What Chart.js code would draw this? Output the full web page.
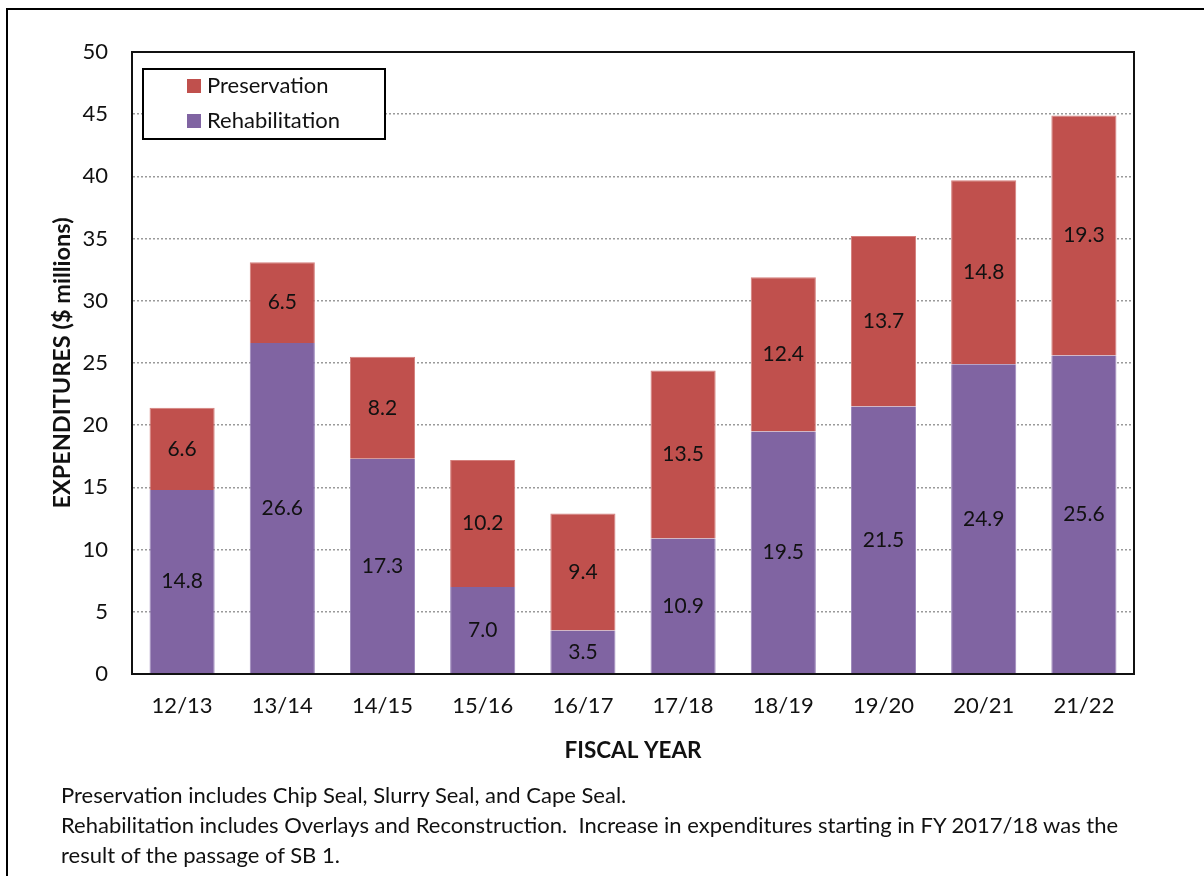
<!DOCTYPE html>
<html>
<head>
<meta charset="utf-8">
<script src="https://cdn.jsdelivr.net/npm/chart.js@4.4.1/dist/chart.umd.min.js"></script>
<style>
  html, body { margin: 0; padding: 0; background: #fff; }
  body { width: 1204px; height: 876px; position: relative; overflow: hidden; font-family: Lato, "Open Sans", sans-serif; }
  .frame { position: absolute; left: 6px; top: 8px; width: 1300px; height: 1000px; border-left: 2px solid #000; border-top: 2px solid #000; }
  .chart-wrap { position: absolute; left: 0; top: 0; width: 1204px; height: 876px; }
  .notes { position: absolute; left: 61px; top: 780px; font-size: 22px; line-height: 30px; color: #111; white-space: nowrap; }
</style>
</head>
<body>
<div class="frame"></div>
<div class="chart-wrap"><canvas id="Bar-Chart" width="1204" height="876"></canvas></div>
<div class="notes">
  Preservation includes Chip Seal, Slurry Seal, and Cape Seal.<br>
  Rehabilitation includes Overlays and Reconstruction.&nbsp; Increase in expenditures starting in FY 2017/18 was the<br>
  result of the passage of SB 1.
</div>
<script>
// Data
const years = ["12/13", "13/14", "14/15", "15/16", "16/17", "17/18", "18/19", "19/20", "20/21", "21/22"];
const rehabilitation = [14.8, 26.6, 17.3, 7.0, 3.5, 10.9, 19.5, 21.5, 24.9, 25.6];
const preservation = [6.6, 6.5, 8.2, 10.2, 9.4, 13.5, 12.4, 13.7, 14.8, 19.3];
const yTicks = [0, 5, 10, 15, 20, 25, 30, 35, 40, 45, 50];

const purple = "#8064A2";
const red = "#C0504D";
const font = "Lato, 'Open Sans', sans-serif";

// value labels in the middle of each segment
const segmentLabels = {
  id: "segmentLabels",
  afterDatasetsDraw(chart) {
    const ctx = chart.ctx;
    ctx.save();
    ctx.font = "21px " + font;
    ctx.fillStyle = "#111";
    ctx.textAlign = "center";
    ctx.textBaseline = "middle";
    chart.data.datasets.forEach((ds, i) => {
      chart.getDatasetMeta(i).data.forEach((bar, j) => {
        const p = bar.getProps(["x", "y", "base"], true);
        ctx.fillText(ds.data[j].toFixed(1), p.x, (p.y + p.base) / 2);
      });
    });
    ctx.restore();
  },
};

// plot frame + legend box
const frameAndLegend = {
  id: "frameAndLegend",
  afterDraw(chart) {
    const ctx = chart.ctx;
    const a = chart.chartArea;
    ctx.save();
    ctx.strokeStyle = "#111";
    ctx.lineWidth = 2;
    ctx.strokeRect(a.left, a.top, a.right - a.left, a.bottom - a.top);

    // legend
    const lx = a.left + 11, ly = a.top + 17, lw = 242, lh = 70;
    ctx.fillStyle = "#fff";
    ctx.fillRect(lx, ly, lw, lh);
    ctx.strokeStyle = "#000";
    ctx.strokeRect(lx, ly, lw, lh);
    const items = [
      { text: "Preservation", color: red },
      { text: "Rehabilitation", color: purple },
    ];
    ctx.font = "22px " + font;
    ctx.textBaseline = "middle";
    ctx.textAlign = "left";
    items.forEach((it, k) => {
      const cy = ly + 17 + k * 35;
      ctx.fillStyle = it.color;
      ctx.fillRect(lx + 44, cy - 7, 14, 14);
      ctx.fillStyle = "#111";
      ctx.fillText(it.text, lx + 64, cy);
    });
    ctx.restore();
  },
};

const data = {
  labels: years,
  datasets: [
    {
      label: "Rehabilitation",
      data: rehabilitation,
      backgroundColor: purple,
      borderColor: "#9B86BA",
      borderWidth: { left: 1, right: 1, top: 0, bottom: 0 },
      borderSkipped: false,
      barPercentage: 0.65,
      categoryPercentage: 1,
    },
    {
      label: "Preservation",
      data: preservation,
      backgroundColor: red,
      borderColor: "#D47F7C",
      borderWidth: { left: 1, right: 1, top: 1, bottom: 0 },
      borderSkipped: false,
      barPercentage: 0.65,
      categoryPercentage: 1,
    },
  ],
};

const config = {
  type: "bar",
  data: data,
  options: {
    responsive: false,
    animation: false,
    layout: { padding: { left: 0, top: 52, right: 70, bottom: 112 } },
    plugins: {
      legend: { display: false },
      tooltip: { enabled: false },
    },
    scales: {
      x: {
        stacked: true,
        grid: { display: false, drawTicks: false },
        border: { display: true, color: "#444", width: 2 },
        ticks: { color: "#111", font: { family: font, size: 22 }, padding: 19, maxRotation: 0 },
        title: {
          display: true,
          text: "FISCAL YEAR",
          color: "#111",
          font: { family: font, size: 22.5, weight: "bold" },
          padding: { top: 0, bottom: 0 },
        },
        afterFit(scale) { scale.height = 90; },
      },
      y: {
        stacked: true,
        min: 0,
        max: 50,
        afterBuildTicks(scale) { scale.ticks = yTicks.map(v => ({ value: v })); },
        grid: {
          color: (c) => (c.tick.value === 0 || c.tick.value === 50 ? "rgba(0,0,0,0)" : "#9a9a9a"),
          lineWidth: 1.5,
          drawTicks: false,
        },
        border: { display: true, color: "#111", width: 2, dash: [2, 2] },
        ticks: { color: "#111", font: { family: font, size: 22 }, padding: 24 },
        title: {
          display: true,
          text: "EXPENDITURES ($ millions)",
          color: "#111",
          font: { family: font, size: 23.5, weight: "bold" },
          padding: { top: 48, bottom: 0 },
        },
        afterFit(scale) { scale.width = 132; },
      },
    },
  },
  plugins: [segmentLabels, frameAndLegend],
};

const myChart = new Chart(document.getElementById("Bar-Chart"), config);
</script>
</body>
</html>
